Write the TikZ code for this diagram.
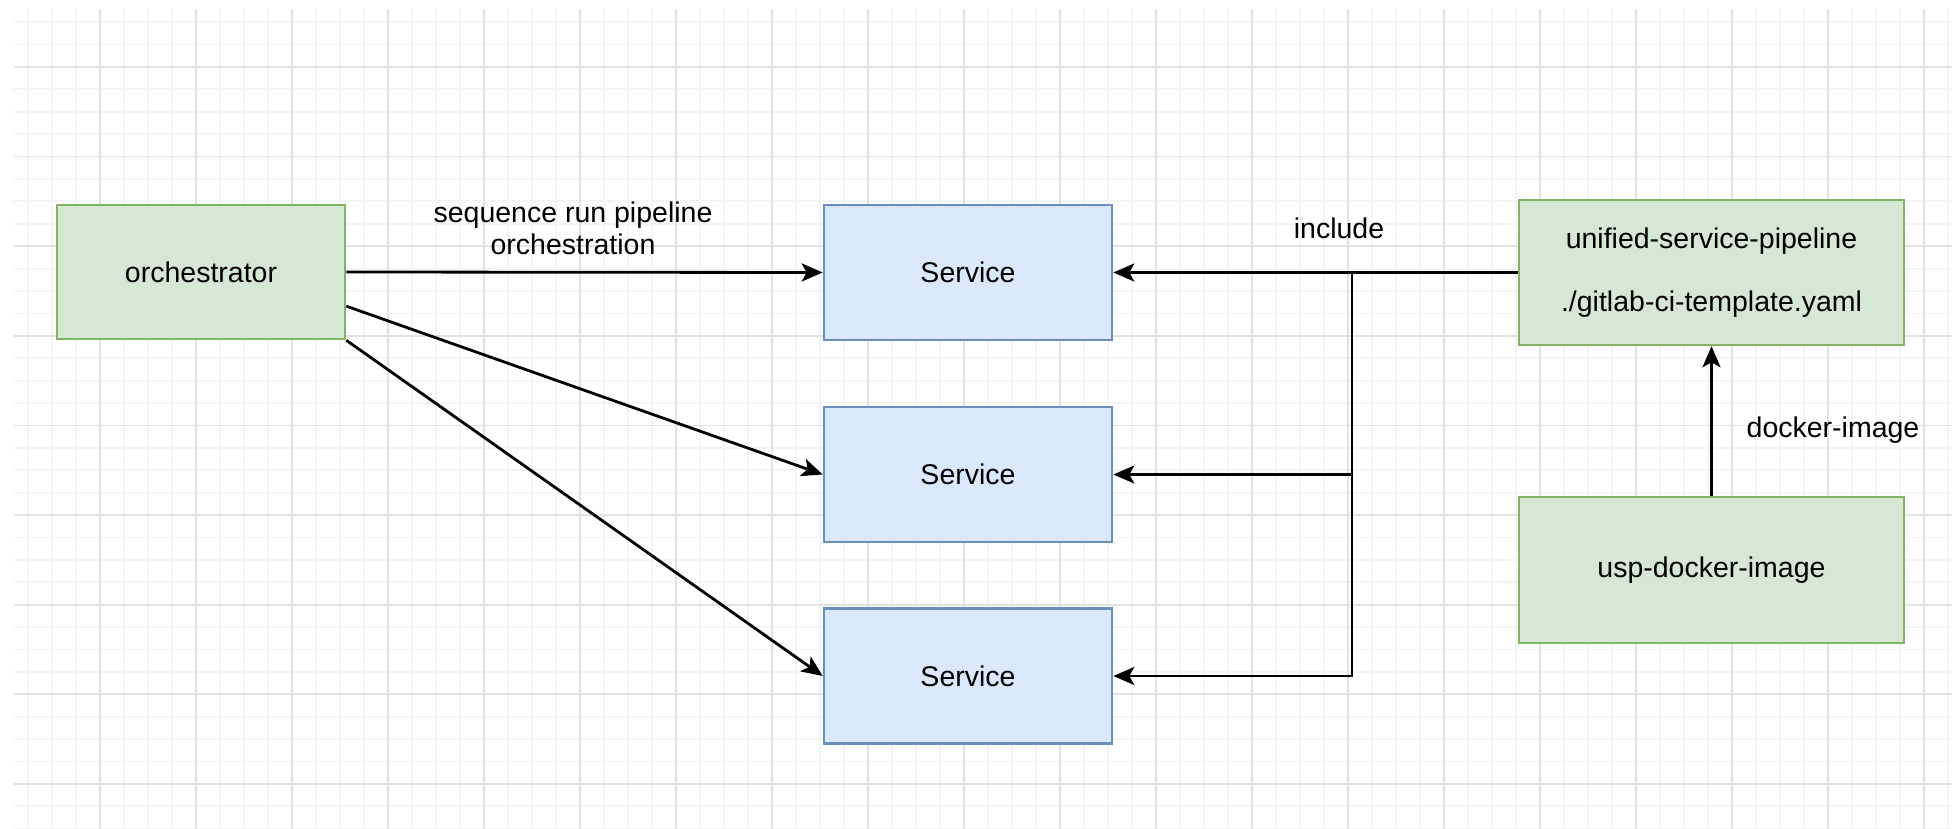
\documentclass[tikz,border=0pt]{standalone}
\usepackage{fontspec}
\setmainfont{Liberation Sans}
\usetikzlibrary{arrows.meta,calc}
\definecolor{gminor}{HTML}{F4F4F4}
\definecolor{gmajor}{HTML}{E2E2E2}
\definecolor{grfill}{HTML}{D5E8D4}
\definecolor{grline}{HTML}{82B366}
\definecolor{blfill}{HTML}{DAE8FC}
\definecolor{blline}{HTML}{6C8EBF}
\tikzset{
  gbox/.style={draw=grline,fill=grfill,line width=2.6pt,minimum width=#1,inner sep=0pt,align=center},
  bbox/.style={draw=blline,fill=blfill,line width=2.6pt,minimum width=288pt,minimum height=135pt,inner sep=0pt},
  conn/.style={draw=black,line width=2.8pt,-{Stealth[length=21pt,width=18pt,inset=5pt]}},
  lbl/.style={align=center,inner sep=0pt},
  txt/.style={font=\fontsize{28.5}{32}\selectfont}
}
\begin{document}
\begin{tikzpicture}[x=1pt,y=-1pt,txt]
\useasboundingbox (0,0) rectangle (1952,829);
\fill[white] (0,0) rectangle (1952,829);
% grid
\foreach \k in {0,...,80} {\draw[gminor,line width=1.8pt] (28+24*\k,9) -- (28+24*\k,829);}
\foreach \k in {0,...,36} {\draw[gminor,line width=1.8pt] (14,22.2+22.4*\k) -- (1952,22.2+22.4*\k);}
\foreach \k in {0,...,19} {\draw[gmajor,line width=1.8pt] (100+96*\k,9) -- (100+96*\k,829);}
\foreach \k in {0,...,8} {\draw[gmajor,line width=1.8pt] (14,67+89.6*\k) -- (1952,67+89.6*\k);}
% nodes
\node[gbox=288pt,minimum height=134pt] (orch) at (201,272) {orchestrator};
\node[bbox] (s1) at (968,272.5) {Service};
\node[bbox] (s2) at (968,474.5) {Service};
\node[bbox] (s3) at (968,676) {Service};
\node[gbox=385pt,minimum height=145pt] (usp) at (1711.5,272.5) {unified-service-pipeline\\[31pt]./gitlab-ci-template.yaml};
\node[gbox=385pt,minimum height=146pt] (img) at (1711.5,570) {usp-docker-image};
% connectors
\draw[conn] (orch.east) -- (s1.west);
\draw[conn] ($(orch.north east)!0.75!(orch.south east)$) -- (s2.west);
\draw[conn] (orch.south east) -- (s3.west);
\coordinate (j) at (1352,272.5);
\draw[conn] (usp.west) -- (s1.east);
\draw[conn] (j) |- (s2.east);
\draw[conn] (j) |- (s3.east);
\draw[conn] (img.north) -- (usp.south);
% labels
\node[lbl] (l1) at (573,228) {sequence run pipeline\\orchestration};
\node[lbl] (l2) at (1339,228) {include};
\node[lbl] (l3) at (1833,430) {docker-image};
\end{tikzpicture}
\end{document}
